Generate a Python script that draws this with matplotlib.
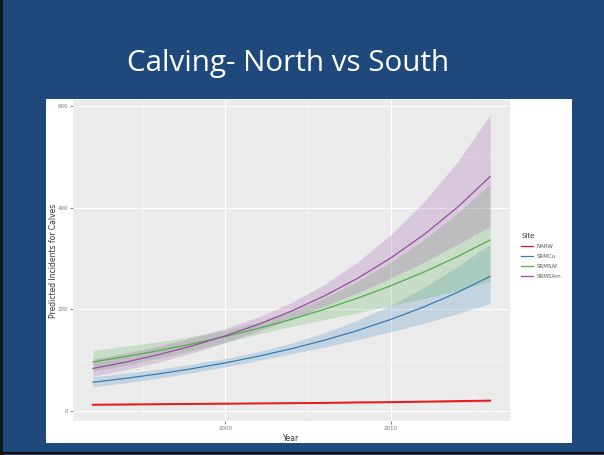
import matplotlib
matplotlib.use("Agg")
import matplotlib.pyplot as plt
from matplotlib.patches import Rectangle
from matplotlib.lines import Line2D
from matplotlib.ticker import MultipleLocator

# ---- data ----
years = [1992, 1994, 1996, 1998, 2000, 2002, 2004, 2006, 2008, 2010, 2012, 2014, 2016]
sites = ["NARW", "SRMCu", "SRMSAf", "SRMSAm"]

narw_fit = [13, 13.5, 14, 14.5, 15, 15.5, 16, 16.5, 17.5, 18, 19, 20, 21]
narw_lo = [11, 12, 12.8, 13.5, 14.2, 14.8, 15.2, 15.6, 16.4, 16.7, 17.4, 18, 18.5]
narw_hi = [15, 15, 15.2, 15.5, 15.8, 16.2, 16.8, 17.4, 18.6, 19.4, 20.7, 22.1, 23.6]

srmcu_fit = [57, 64.8, 73.6, 83.7, 95.1, 108.1, 122.9, 139.6, 158.7, 180.4, 205.0, 233.0, 264.8]
srmcu_lo = [48.1, 56.1, 65.2, 75.7, 87.3, 99.8, 112.8, 126.3, 140.7, 156.2, 172.9, 191.3, 211.5]
srmcu_hi = [67.6, 74.9, 83.0, 92.5, 103.6, 117.1, 133.9, 154.3, 179.0, 208.4, 243.0, 283.7, 328.0]

srmsaf_fit = [97, 107.6, 119.3, 132.4, 146.8, 162.8, 180.6, 200.3, 222.2, 246.4, 273.3, 303.2, 336.3]
srmsaf_lo = [78.7, 90.5, 104.0, 119.1, 135.5, 151.8, 166.7, 180.2, 193.6, 207.3, 221.6, 236.8, 255.0]
srmsaf_hi = [119.6, 127.9, 136.9, 147.1, 159.1, 174.6, 195.7, 222.6, 255.0, 292.9, 337.0, 388.2, 446.0]

srmsam_fit = [84, 96.8, 111.5, 128.5, 148.1, 170.7, 196.7, 226.7, 261.2, 301.0, 346.8, 399.7, 460.6]
srmsam_lo = [68.8, 81.7, 96.8, 114.5, 134.8, 157.3, 181.3, 206.3, 232.7, 261.3, 292.6, 327.2, 363.0]
srmsam_hi = [102.6, 114.7, 128.4, 144.2, 162.7, 185.2, 213.4, 249.1, 293.2, 346.7, 411.1, 488.2, 582.0]

fits = [narw_fit, srmcu_fit, srmsaf_fit, srmsam_fit]
los = [narw_lo, srmcu_lo, srmsaf_lo, srmsam_lo]
his = [narw_hi, srmcu_hi, srmsaf_hi, srmsam_hi]
colors = ["#E41A1C", "#377EB8", "#4DAF4A", "#984EA3"]
line_widths = [1.4, 0.9, 0.9, 0.9]

x_ticks = [2000, 2010]
y_ticks = [0, 200, 400, 600]

title = "Calving- North vs South"
x_label = "Year"
y_label = "Predicted Incidents for Calves"
legend_title = "Site"

# ---- figure ----
W, H = 604, 455
fig = plt.figure(figsize=(W / 100, H / 100), dpi=100)
fig.patch.set_facecolor("#1F497D")

# white slide content box
fig.patches.append(Rectangle((46 / W, 1 - 443 / H), (572 - 46) / W, (443 - 99) / H,
                             transform=fig.transFigure, facecolor="white",
                             edgecolor="none", zorder=-5))
# dark frame on left/bottom
fig.add_artist(Line2D([1 / W, 1 / W], [0, 1], color="#111111", lw=2.0,
                      transform=fig.transFigure, zorder=-4))
fig.add_artist(Line2D([0, 1], [2 / H, 2 / H], color="#111111", lw=1.5,
                      transform=fig.transFigure, zorder=-4))

fig.text(288 / W, 1 - 64 / H, title, color="white", fontsize=21.3,
         family=["Open Sans", "DejaVu Sans"], ha="center", va="center")

ax = fig.add_axes([73 / W, 1 - 421 / H, (510 - 73) / W, (421 - 100) / H])
ax.set_zorder(2)
ax.set_facecolor("#EBEBEB")
for s in ax.spines.values():
    s.set_visible(False)

for fit, lo, hi, c in zip(fits, los, his, colors):
    ax.fill_between(years, lo, hi, color=c, alpha=0.22, linewidth=0, zorder=2)
for fit, c, lab, lw in zip(fits, colors, sites, line_widths):
    ax.plot(years, fit, color=c, lw=lw, zorder=3, label=lab)

ax.set_xlim(1990.8, 2017.2)
ax.set_ylim(-19, 611)
ax.set_xticks(x_ticks)
ax.set_yticks(y_ticks)
ax.xaxis.set_minor_locator(MultipleLocator(5))
ax.yaxis.set_minor_locator(MultipleLocator(100))
ax.grid(which="major", color="white", lw=0.8, zorder=1)
ax.grid(which="minor", color="#F5F5F5", lw=0.5, zorder=1)
ax.set_axisbelow(True)
ax.tick_params(which="major", length=2, width=0.5, color="#555555",
               labelsize=4, labelcolor="#777777", pad=1.5)
ax.tick_params(which="minor", length=0)

ax.set_xlabel(x_label, fontsize=5.5, color="#333333", labelpad=2)
ax.set_ylabel(y_label, fontsize=5.5, color="#333333", labelpad=0)

handles = [Line2D([0], [0], color=c, lw=0.9) for c in colors]
leg = fig.legend(handles, sites, title=legend_title, loc="upper left",
                 bbox_to_anchor=(516 / W, 1 - 228 / H), frameon=False,
                 fontsize=4, title_fontsize=5, handlelength=2.2,
                 labelspacing=0.9, handletextpad=0.6)
leg.set_zorder(3)
leg._legend_box.align = "left"
for t in leg.get_texts():
    t.set_color("#555555")
leg.get_title().set_color("#333333")

fig.savefig("out.png", dpi=100, facecolor=fig.get_facecolor())
